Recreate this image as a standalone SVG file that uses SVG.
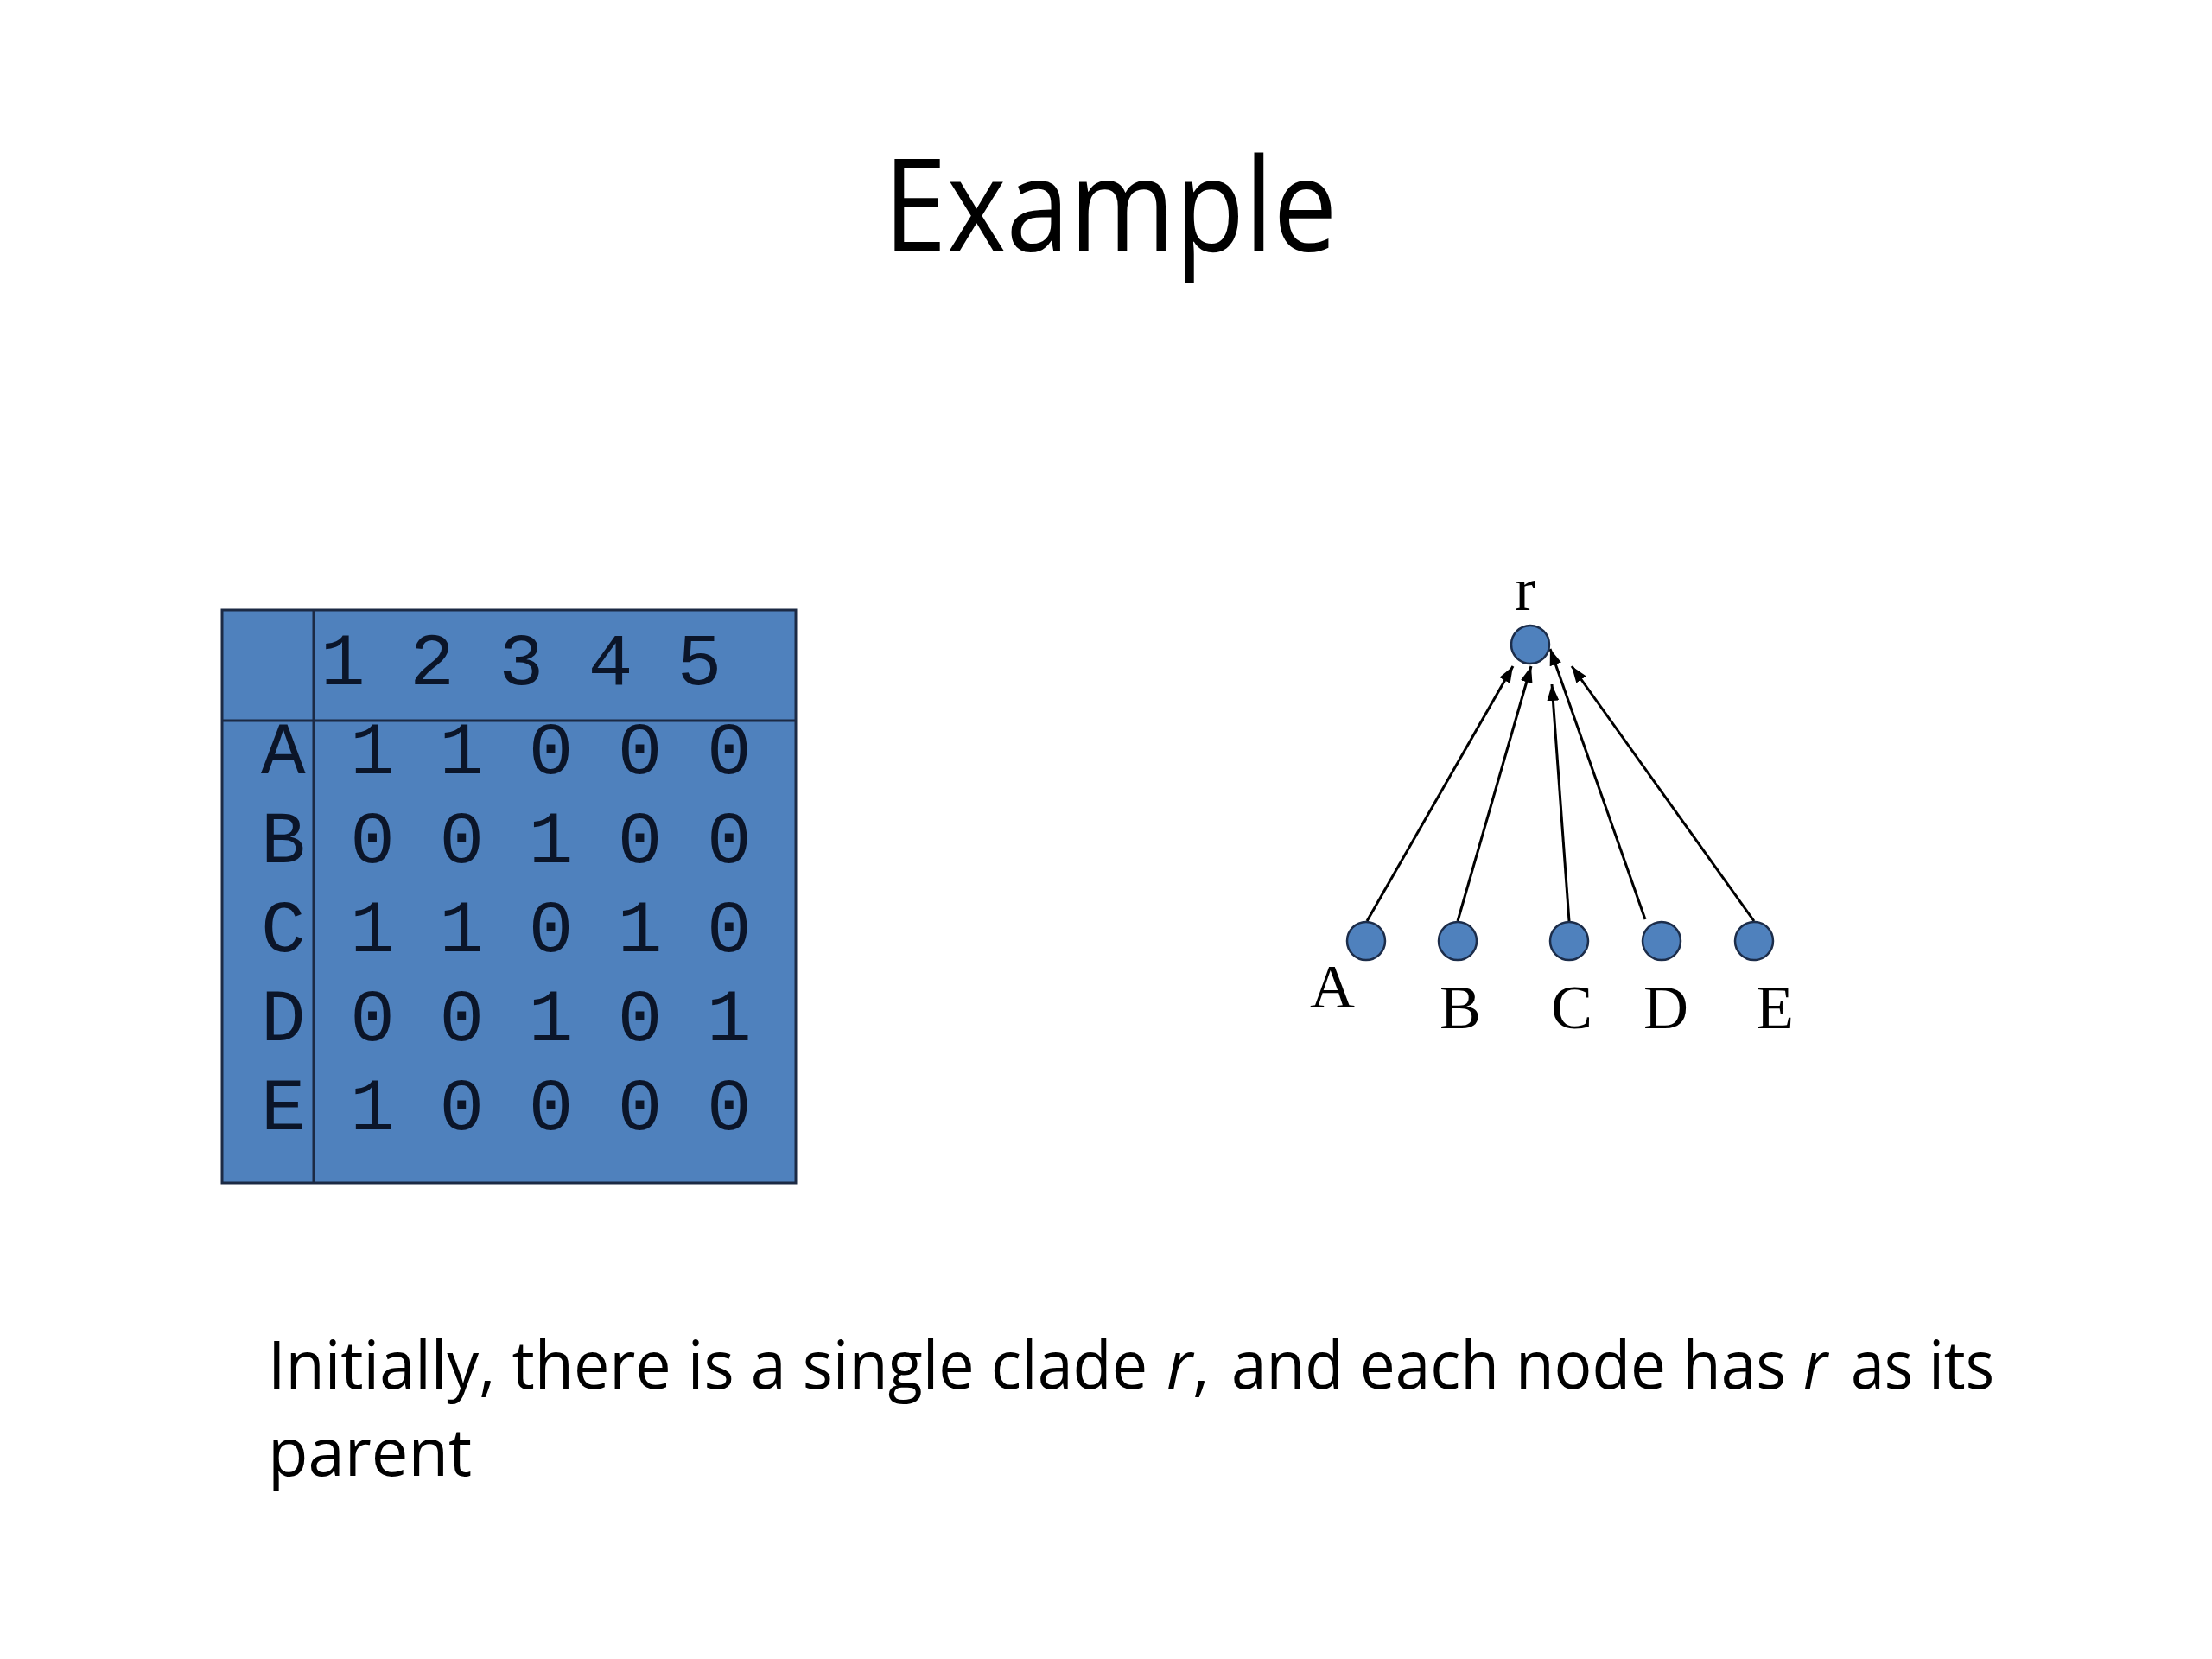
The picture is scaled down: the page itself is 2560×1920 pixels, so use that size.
<svg xmlns="http://www.w3.org/2000/svg" width="2560" height="1920" viewBox="0 0 2560 1920">
  <style>
    .title { font-family: "Open Sans", "Noto Sans", sans-serif; font-size: 150px; fill: #000; }
    .body { font-family: "Open Sans", "Noto Sans", sans-serif; font-size: 76px; fill: #000; }
    .it { font-style: italic; }
    .mono { font-family: "Liberation Mono", "Courier New", monospace; font-size: 86px; fill: #0b1529; }
    .serif { font-family: "Liberation Serif", "Times New Roman", serif; font-size: 72px; fill: #000; text-anchor: middle; }
    .node { fill: #4f81bd; stroke: #1c2d4a; stroke-width: 2.5; }
    .edge { stroke: #000; stroke-width: 3; fill: none; marker-end: url(#arrow); }
    .grid { fill: none; stroke: #1c2a44; stroke-width: 3; }
  </style>
  <defs>
    <marker id="arrow" markerUnits="userSpaceOnUse" markerWidth="20" markerHeight="14" refX="19" refY="7" orient="auto">
      <path d="M0,0 L19,7 L0,14 z" fill="#000"/>
    </marker>
  </defs>
  <rect width="2560" height="1920" fill="#fff"/>

  <text class="title" x="1285" y="291" text-anchor="middle" textLength="525" lengthAdjust="spacingAndGlyphs">Example</text>

  <g id="matrix">
    <rect x="257" y="706" width="664" height="663" fill="#4f81bd"/>
    <rect class="grid" x="257" y="706" width="664" height="663"/>
    <line class="grid" x1="363" y1="706" x2="363" y2="1369"/>
    <line class="grid" x1="257" y1="834" x2="921" y2="834"/>
    <text class="mono" x="371" y="792">1 2 3 4 5</text>
    <text class="mono" x="302" y="895">A 1 1 0 0 0</text>
    <text class="mono" x="302" y="998">B 0 0 1 0 0</text>
    <text class="mono" x="302" y="1101">C 1 1 0 1 0</text>
    <text class="mono" x="302" y="1204">D 0 0 1 0 1</text>
    <text class="mono" x="302" y="1307">E 1 0 0 0 0</text>
  </g>

  <g id="connectors">
    <line class="edge" x1="1582" y1="1066" x2="1751" y2="771"/>
    <line class="edge" x1="1687" y1="1066" x2="1772" y2="771"/>
    <line class="edge" x1="1816" y1="1066" x2="1796" y2="792"/>
    <line class="edge" x1="1904" y1="1064" x2="1794" y2="751"/>
    <line class="edge" x1="2030" y1="1066" x2="1819" y2="771"/>
  </g>

  <g id="node-r">
    <circle class="node" cx="1771" cy="746" r="22"/>
    <text class="serif" x="1765" y="706" font-size="84">r</text>
  </g>
  <g id="node-A">
    <circle class="node" cx="1581" cy="1089" r="22"/>
    <text class="serif" x="1542" y="1166">A</text>
  </g>
  <g id="node-B">
    <circle class="node" cx="1687" cy="1089" r="22"/>
    <text class="serif" x="1690" y="1190">B</text>
  </g>
  <g id="node-C">
    <circle class="node" cx="1816" cy="1089" r="22"/>
    <text class="serif" x="1819" y="1190">C</text>
  </g>
  <g id="node-D">
    <circle class="node" cx="1923" cy="1089" r="22"/>
    <text class="serif" x="1928" y="1190">D</text>
  </g>
  <g id="node-E">
    <circle class="node" cx="2030" cy="1089" r="22"/>
    <text class="serif" x="2054" y="1190">E</text>
  </g>

  <g id="caption">
    <text class="body" x="310" y="1607" textLength="1018" lengthAdjust="spacingAndGlyphs">Initially, there is a single clade</text>
    <text class="body" x="1350" y="1607"><tspan class="it">r</tspan>,</text>
    <text class="body" x="1425" y="1607" textLength="642" lengthAdjust="spacingAndGlyphs">and each node has</text>
    <text class="body it" x="2087" y="1607" textLength="28" lengthAdjust="spacingAndGlyphs">r</text>
    <text class="body" x="2142" y="1607" textLength="166" lengthAdjust="spacingAndGlyphs">as its</text>
    <text class="body" x="310" y="1708">parent</text>
  </g>
</svg>
